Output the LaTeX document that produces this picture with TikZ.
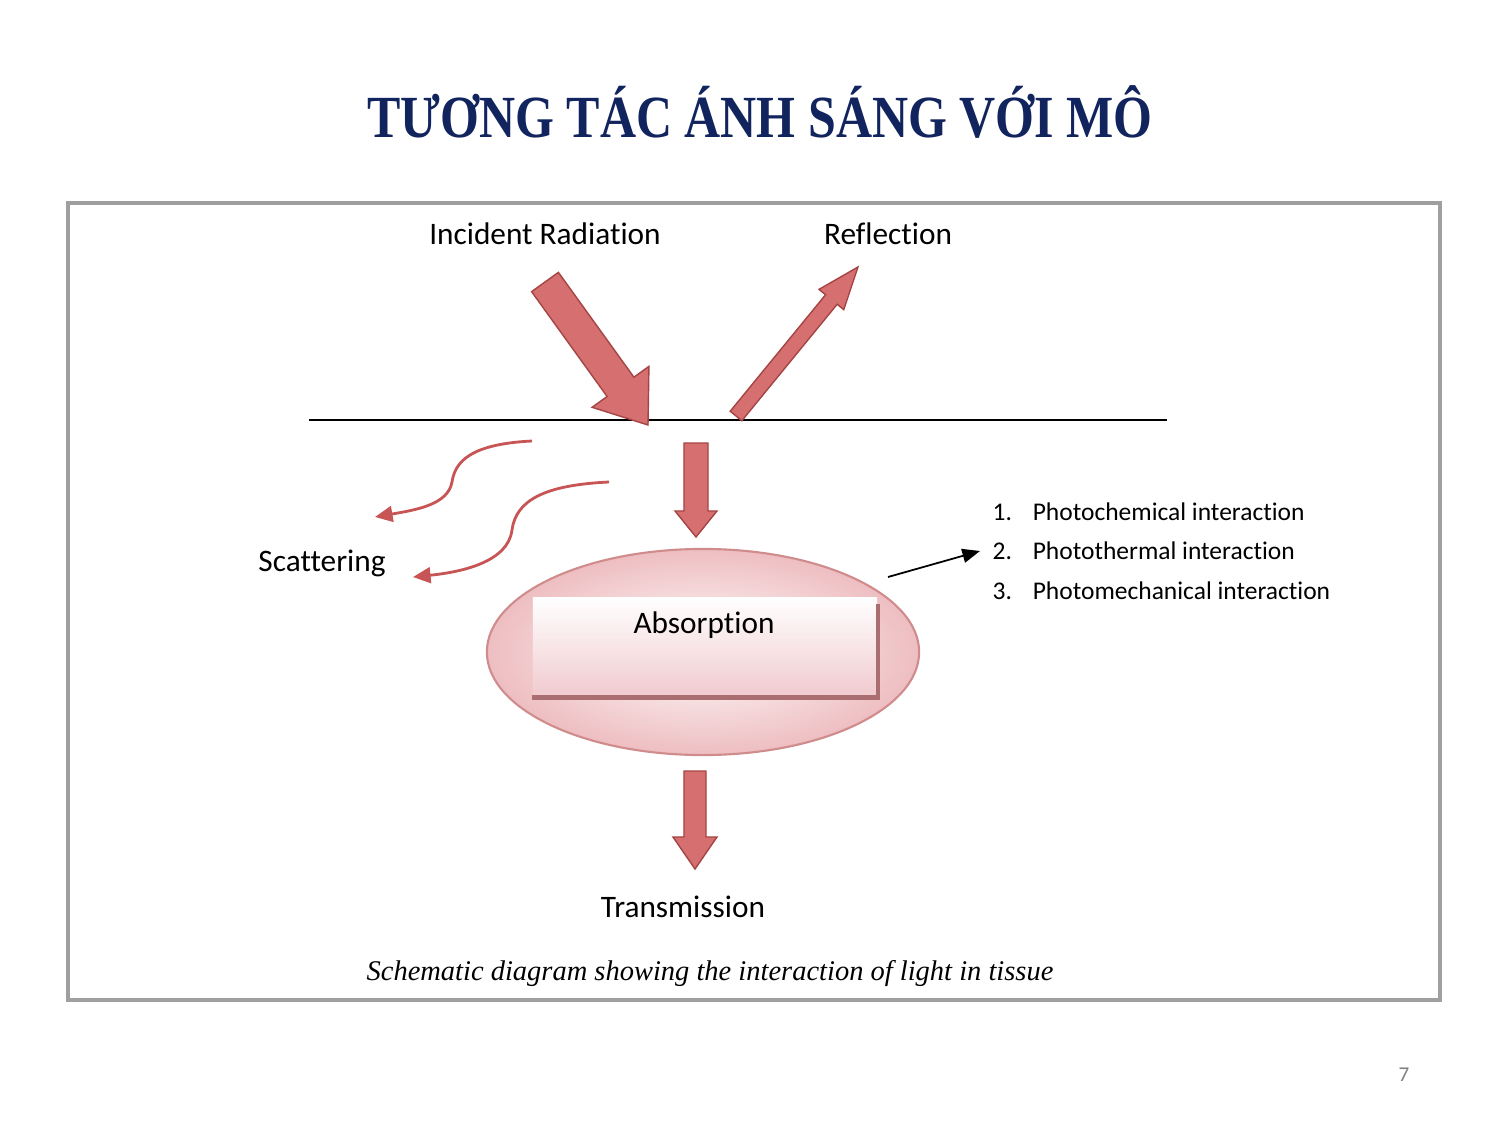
\documentclass[tikz,border=0pt]{standalone}
\usepackage{fontspec}
\setmainfont{Liberation Serif}
\newfontfamily\calibri[Ligatures=NoCommon]{Carlito}
\usetikzlibrary{arrows.meta,calc,shapes.geometric}

\definecolor{titleblue}{RGB}{17,36,94}
\definecolor{arrowred}{RGB}{214,112,112}
\definecolor{arrowedge}{RGB}{165,68,68}
\definecolor{curvered}{RGB}{200,85,85}
\definecolor{ellpink}{RGB}{238,190,193}
\definecolor{ellline}{RGB}{208,140,140}
\definecolor{boxpink}{RGB}{240,202,206}
\definecolor{boxshade}{RGB}{170,110,112}

% #1 tail, #2 tip, #3 half shaft, #4 half head, #5 head length
\newcommand{\blockarrow}[5]{%
  \coordinate (#2neck) at ($(#2)!#5!(#1)$);
  \filldraw[blockarrow] ($(#1)!#3!90:(#2)$) -- ($(#2neck)!#3!90:(#2)$)
    -- ($(#2neck)!#4!90:(#2)$) -- (#2) -- ($(#2neck)!#4!-90:(#2)$)
    -- ($(#2neck)!#3!-90:(#2)$) -- ($(#1)!#3!-90:(#2)$) -- cycle;
}

\tikzset{
  lbl/.style={font=\calibri\fontsize{8.9}{11}\selectfont, inner sep=0pt},
  listitem/.style={font=\calibri\fontsize{7.25}{9}\selectfont, anchor=west, inner sep=0pt},
  blockarrow/.style={fill=arrowred, draw=arrowedge, line width=0.4pt},
  scatter/.style={curvered, line width=0.8pt, -{Triangle[length=5pt,width=4.5pt]}},
}

\begin{document}
\begin{tikzpicture}[x=0.01cm, y=-0.01cm]
  \useasboundingbox (0,0) rectangle (1499,1124);

  % title and frame
  \node[font=\bfseries\fontsize{17}{20}\selectfont, text=titleblue] (title) at (760,112) {\scalebox{0.836}[1]{TƯƠNG TÁC ÁNH SÁNG VỚI MÔ}};
  \draw[gray!75, line width=0.9pt] (68,203) rectangle (1440,1000);

  % surface
  \coordinate (surfl) at (309,420);
  \coordinate (surfr) at (1167,420);
  \draw[line width=0.5pt] (surfl) -- (surfr);

  % labels
  \node[lbl] (incident) at (545,234) {Incident Radiation};
  \node[lbl] (reflect) at (888,234) {Reflection};
  \node[lbl] (scatterlbl) at (322,563) {Scattering};
  \node[lbl] (transmit) at (683,907) {Transmission};

  % block arrows
  \coordinate (inctail) at (545,282);
  \coordinate (inctip) at (648,425);
  \blockarrow{inctail}{inctip}{0.165cm}{0.35cm}{0.47cm}
  \coordinate (reftail) at (736,416);
  \coordinate (reftip) at (858,267);
  \blockarrow{reftail}{reftip}{0.075cm}{0.16cm}{0.42cm}
  \coordinate (abstail) at (696,443);
  \coordinate (abstip) at (696,537);
  \blockarrow{abstail}{abstip}{0.12cm}{0.21cm}{0.26cm}
  \coordinate (transtail) at (695,771);
  \coordinate (transtip) at (695,869);
  \blockarrow{transtail}{transtip}{0.11cm}{0.22cm}{0.32cm}

  % scattering
  \coordinate (scatA) at (532,441);
  \coordinate (scatAend) at (375,517);
  \coordinate (scatB) at (609,482);
  \coordinate (scatBend) at (413,577);
  \draw[scatter] (scatA) .. controls (470,444) and (455,462) .. (452,482)
    .. controls (448,505) and (415,510) .. (scatAend);
  \draw[scatter] (scatB) .. controls (545,485) and (516,500) .. (512,530)
    .. controls (508,562) and (462,572) .. (scatBend);

  % absorption
  \node[ellipse, minimum width=4.32cm, minimum height=2.06cm, draw=ellline, line width=0.6pt,
        inner color=white!94!ellpink, outer color=ellpink] (absorb) at (703,652) {};
  \node[minimum width=3.44cm, minimum height=0.99cm, inner sep=0pt,
        top color=white, bottom color=boxpink] (absorbbox) at (705,647) {};
  \draw[boxshade, line width=1.3pt] ([yshift=-0.07cm]absorbbox.north east) -- (absorbbox.south east) -- (absorbbox.south west);
  \node[lbl] (absorblbl) at (704,625) {Absorption};

  % interaction list
  \node[listitem] (item1) at (992,512) {\makebox[11.4pt][l]{1.}Photochemical interaction};
  \node[listitem] (item2) at (992,551) {\makebox[11.4pt][l]{2.}Photothermal interaction};
  \node[listitem] (item3) at (992,591) {\makebox[11.4pt][l]{3.}Photomechanical interaction};
  \coordinate (absorbout) at (888,577);
  \draw[line width=0.5pt, -{Triangle[length=5pt,width=4pt]}] (absorbout) -- ([xshift=-0.12cm]item2.west);

  % caption and page number
  \node[font=\itshape\fontsize{8.1}{10}\selectfont] (caption) at (710,973) {Schematic diagram showing the interaction of light in tissue};
  \node[font=\calibri\fontsize{6}{7}\selectfont, text=gray] (pagenum) at (1404,1075) {7};
\end{tikzpicture}
\end{document}
